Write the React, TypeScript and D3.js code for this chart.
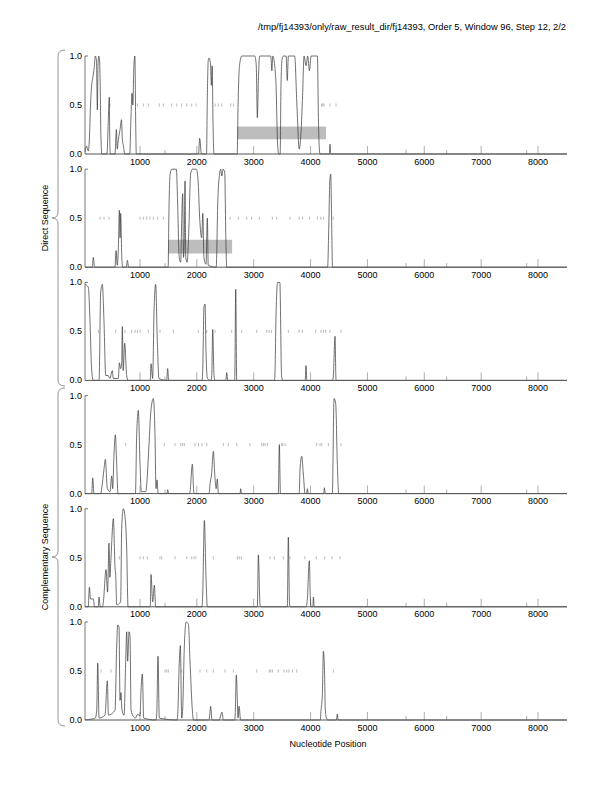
import * as d3 from "d3";

// ---- data ----
const TITLE =
  "/tmp/fj14393/only/raw_result_dir/fj14393, Order 5, Window 96, Step 12, 2/2";
const X_LABEL = "Nucleotide Position";
const STRAND_LABELS = ["Direct Sequence", "Complementary Sequence"];
const X_TICKS = [1000, 2000, 3000, 4000, 5000, 6000, 7000, 8000];
const Y_TICKS = [0, 0.5, 1];
const MINOR_TICKS = [1440, 5679, 6394, 7801];
const SEQ_LENGTH = 8510;

type Pt = [number, number];

const frame1: Pt[] = [
  [33, 0.02], [60, 0.08], [90, 0.03], [110, 0.15], [130, 0.5], [150, 0.7],
  [170, 0.78], [195, 0.88], [215, 1.0], [235, 0.95], [250, 0.45], [262, 0.9],
  [275, 1.0], [290, 0.95], [300, 0.7], [312, 0.2], [330, 0], [420, 0], [440, 0.3],
  [460, 0.58], [470, 0.1], [480, 0], [560, 0], [585, 0.25], [600, 0.05],
  [620, 0.15], [650, 0.25], [675, 0.35], [690, 0.15], [710, 0.08], [730, 0],
  [820, 0], [840, 0.35], [860, 0.62], [875, 0.5], [890, 0.85], [910, 1.0],
  [925, 0.3], [935, 0], [2030, 0], [2050, 0.16], [2080, 0], [2170, 0],
  [2185, 0.6], [2200, 0.95], [2215, 0.98], [2240, 0.92], [2255, 0.7],
  [2270, 0.9], [2285, 0.3], [2300, 0], [2710, 0], [2725, 0.5], [2750, 0.9],
  [2790, 1.0], [3020, 1.0], [3045, 0.9], [3064, 0.37], [3085, 0.8], [3105, 1.0],
  [3300, 1.0], [3320, 0.85], [3335, 1.0], [3390, 0.75], [3420, 0.1], [3440, 0],
  [3465, 0], [3480, 0.7], [3500, 0.97], [3520, 1.0], [3570, 1.0], [3590, 0.75],
  [3610, 1.0], [3720, 1.0], [3760, 0.5], [3800, 0.05], [3830, 0.2], [3860, 0.6],
  [3885, 1.0], [3920, 0.9], [3950, 1.0], [3980, 0.85], [4010, 1.0], [4120, 1.0],
  [4140, 0.3], [4165, 0], [4330, 0], [4342, 0.1], [4355, 0], [8510, 0],
];
const frame2: Pt[] = [
  [33, 0], [160, 0], [180, 0.1], [200, 0], [560, 0], [579, 0.17], [600, 0.02],
  [620, 0.2], [637, 0.58], [650, 0.3], [661, 0.55], [680, 0.1], [696, 0],
  [760, 0], [778, 0.07], [800, 0], [1495, 0], [1510, 0.6], [1530, 0.95],
  [1560, 1.0], [1640, 1.0], [1660, 0.7], [1690, 0.1], [1716, 0.05], [1735, 0.5],
  [1751, 0.75], [1765, 0.1], [1780, 0.3], [1792, 0.88], [1805, 0.1], [1830, 0.05],
  [1860, 0.4], [1890, 0.95], [1920, 1.0], [1990, 1.0], [2020, 0.9], [2050, 0.5],
  [2085, 0.3], [2105, 0.55], [2125, 0.1], [2161, 0.03], [2185, 0.5], [2200, 0.02],
  [2340, 0], [2370, 0.7], [2400, 0.95], [2420, 1.0], [2440, 0.93], [2460, 1.0],
  [2490, 0.97], [2510, 0.3], [2525, 0], [4300, 0], [4320, 0.4], [4340, 0.9],
  [4355, 0.95], [4370, 0.5], [4385, 0], [8510, 0],
];
const frame3: Pt[] = [
  [33, 0.98], [92, 0.95], [121, 0.6], [151, 0.1], [180, 0], [280, 0], [309, 0.9],
  [338, 0.98], [367, 0.6], [397, 0.05], [440, 0.05], [470, 0.02], [514, 0.1],
  [530, 0.02], [620, 0.02], [637, 0.18], [660, 0.12], [678, 0.18], [690, 0.55],
  [705, 0.1], [731, 0.38], [766, 0.05], [790, 0], [1180, 0], [1194, 0.17],
  [1223, 0.02], [1247, 0.7], [1276, 0.98], [1305, 0.4], [1334, 0.02], [1470, 0],
  [1487, 0.12], [1505, 0], [2090, 0], [2103, 0.1], [2126, 0.75], [2144, 0.78],
  [2161, 0.3], [2185, 0.02], [2250, 0], [2262, 0.05], [2279, 0.52], [2302, 0.05],
  [2320, 0], [2510, 0], [2525, 0.08], [2545, 0], [2666, 0], [2684, 0.93],
  [2701, 0], [3360, 0], [3370, 0.02], [3395, 0.72], [3420, 1.0], [3460, 1.0],
  [3490, 0.05], [3510, 0], [3905, 0], [3920, 0.15], [3935, 0], [4390, 0],
  [4401, 0.05], [4430, 0.45], [4448, 0], [8510, 0],
];
const frame4: Pt[] = [
  [33, 0], [150, 0], [169, 0.16], [190, 0], [310, 0], [326, 0.05], [367, 0.25],
  [391, 0.35], [426, 0.05], [473, 0.02], [502, 0.18], [520, 0.05], [543, 0.4],
  [567, 0.6], [590, 0.3], [614, 0], [920, 0], [942, 0.6], [971, 0.85],
  [1001, 0.3], [1024, 0.02], [1100, 0.02], [1159, 0.5], [1188, 0.82],
  [1235, 0.97], [1264, 0.6], [1282, 0.05], [1300, 0.14], [1320, 0], [1475, 0],
  [1487, 0.04], [1505, 0], [1870, 0], [1880, 0.02], [1921, 0.3], [1945, 0.02],
  [1960, 0], [2215, 0], [2232, 0.1], [2260, 0.2], [2290, 0.43], [2320, 0.15],
  [2340, 0.05], [2360, 0.15], [2380, 0], [2760, 0], [2771, 0.05], [2785, 0],
  [3433, 0], [3451, 0.5], [3470, 0], [3800, 0], [3815, 0.25], [3844, 0.38],
  [3873, 0.2], [3903, 0], [3930, 0], [3944, 0.05], [3960, 0], [4230, 0],
  [4243, 0.06], [4260, 0], [4383, 0], [4413, 0.97], [4442, 0.92], [4471, 0.3],
  [4495, 0], [8510, 0],
];
const frame5: Pt[] = [
  [33, 0], [90, 0], [110, 0.2], [130, 0.08], [180, 0.08], [200, 0], [265, 0],
  [280, 0.1], [300, 0], [340, 0], [356, 0.05], [403, 0.38], [430, 0.15],
  [455, 0.65], [470, 0.3], [490, 0.5], [532, 0.9], [561, 0.4], [575, 0.3],
  [590, 0.02], [660, 0.05], [678, 0.8], [707, 1.0], [737, 0.92], [766, 0.6],
  [790, 0], [1180, 0], [1194, 0.33], [1223, 0.05], [1253, 0.22], [1275, 0],
  [2090, 0], [2103, 0.12], [2132, 0.88], [2161, 0.3], [2185, 0], [3064, 0],
  [3082, 0.53], [3111, 0.02], [3125, 0], [3591, 0], [3609, 0.71], [3630, 0.02],
  [3645, 0], [3920, 0], [3940, 0.05], [3979, 0.47], [3995, 0.1], [4010, 0],
  [4040, 0], [4050, 0.1], [4065, 0], [8510, 0],
];
const frame6: Pt[] = [
  [33, 0], [151, 0.01], [215, 0.02], [239, 0.1], [257, 0.58], [280, 0.02],
  [385, 0.05], [426, 0.4], [445, 0.05], [561, 0.1], [590, 0.75], [608, 0.97],
  [631, 0.95], [649, 0.2], [666, 0.28], [684, 0.1], [720, 0.05], [749, 0.6],
  [766, 0.9], [784, 0.6], [807, 0.9], [825, 0.85], [843, 0.1], [880, 0.04],
  [920, 0.02], [960, 0.06], [1000, 0.04], [1018, 0.3], [1042, 0.47], [1065, 0.02],
  [1280, 0], [1294, 0.05], [1317, 0.65], [1340, 0.02], [1650, 0], [1663, 0.05],
  [1692, 0.6], [1710, 0.76], [1734, 0.02], [1750, 0.1], [1780, 0.75],
  [1810, 1.0], [1851, 0.98], [1880, 0.6], [1921, 0.1], [1940, 0], [2210, 0],
  [2220, 0.02], [2244, 0.14], [2265, 0], [2400, 0], [2408, 0.02], [2443, 0.08],
  [2465, 0], [2665, 0], [2672, 0.02], [2695, 0.46], [2725, 0.02], [2742, 0.14],
  [2770, 0], [4170, 0], [4184, 0.1], [4207, 0.25], [4225, 0.7], [4243, 0.55],
  [4260, 0.1], [4280, 0.02], [4300, 0], [4455, 0], [4471, 0.06], [4485, 0],
  [8510, 0],
];

const stops1 = [
  473, 954, 1059, 1147, 1340, 1411, 1558, 1646, 1734, 1822, 1910, 1985, 2320,
  2378, 2437, 2596, 2642, 4196, 4216, 4236, 4342, 4448,
];
const stops2 = [
  297, 367, 455, 1001, 1059, 1118, 1176, 1235, 1311, 1411, 2584, 2730, 2877,
  2964, 3099, 3328, 3404, 3640, 3800, 3860, 3980, 4120, 4180, 4230, 4400,
];
const stops3 = [
  268, 573, 737, 854, 913, 954, 1001, 1147, 1352, 1587, 2026, 2174, 2320, 2613,
  2789, 3053, 3229, 3270, 3310, 3609, 3797, 3856, 4090, 4184, 4225, 4266, 4342,
  4536,
];
const stops4 = [
  749, 1428, 1616, 1716, 1750, 1780, 1968, 2030, 2090, 2174, 2466, 2554, 2701,
  2935, 3141, 3170, 3200, 3240, 3492, 3510, 3551, 4108, 4166, 4196, 4313, 4536,
];
const stops5 = [
  637, 1001, 1059, 1129, 1352, 1382, 1616, 1822, 1910, 1950, 1985, 2290, 2712,
  2745, 2783, 3287, 3363, 3521, 3639, 3900, 4100, 4250, 4380, 4520,
];
const stops6 = [
  315, 491, 1440, 1470, 1499, 1734, 2056, 2174, 2290, 2496, 2642, 3053, 3275,
  3300, 3328, 3433, 3533, 3580, 3620, 3680, 3756, 4401,
];

// [start, end, low, high]
const boxes1: [number, number, number, number][] = [[2707, 4272, 0.15, 0.28]];
const boxes2: [number, number, number, number][] = [[1495, 2620, 0.14, 0.28]];

const panels = [
  { line: frame1, stops: stops1, boxes: boxes1 },
  { line: frame2, stops: stops2, boxes: boxes2 },
  { line: frame3, stops: stops3, boxes: [] },
  { line: frame4, stops: stops4, boxes: [] },
  { line: frame5, stops: stops5, boxes: [] },
  { line: frame6, stops: stops6, boxes: [] },
];

const FONT = "'Liberation Sans', Arial, Helvetica, sans-serif";

export default function App() {
  const width = 612;
  const height = 792;
  const left = 85;
  const right = 567;
  const panelTop = 56;
  const panelStep = 113.2;
  const panelH = 98;

  const x = d3.scaleLinear().domain([33, SEQ_LENGTH]).range([left, right]);

  const brace = (y0: number, y1: number) => {
    const bx = 58;
    const tip = 65;
    const notch = 52;
    const r = 6;
    const ym = (y0 + y1) / 2;
    return `M${tip},${y0} Q${bx},${y0} ${bx},${y0 + r} L${bx},${ym - r} Q${bx},${ym} ${notch},${ym} Q${bx},${ym} ${bx},${ym + r} L${bx},${y1 - r} Q${bx},${y1} ${tip},${y1}`;
  };

  return (
    <svg
      width={width}
      height={height}
      style={{ position: "absolute", left: 0, top: 0, background: "#fff" }}
      fontFamily={FONT}
    >
      <text x={566} y={30} fontSize={9.3} textAnchor="end" fill="#000">
        {TITLE}
      </text>

      {panels.map((p, i) => {
        const top = panelTop + i * panelStep;
        const y = d3.scaleLinear().domain([0, 1]).range([top + panelH, top]);
        const line = d3
          .line<Pt>()
          .x((d) => x(d[0]))
          .y((d) => y(d[1]))
          .curve(d3.curveMonotoneX);
        return (
          <g key={i}>
            {p.boxes.map((b, j) => (
              <rect
                key={j}
                x={x(b[0])}
                y={y(b[3])}
                width={x(b[1]) - x(b[0])}
                height={y(b[2]) - y(b[3])}
                fill="#bdbdbd"
              />
            ))}
            {p.stops.map((s, j) => (
              <line
                key={j}
                x1={x(s)}
                x2={x(s)}
                y1={y(0.5) - 1.5}
                y2={y(0.5) + 1.5}
                stroke="#999"
                strokeWidth={0.7}
              />
            ))}
            {X_TICKS.map((t) => (
              <line
                key={t}
                x1={x(t)}
                x2={x(t)}
                y1={y(0)}
                y2={y(0) - 8}
                stroke="#999"
                strokeWidth={0.8}
              />
            ))}
            {MINOR_TICKS.map((t) => (
              <line
                key={t}
                x1={x(t)}
                x2={x(t)}
                y1={y(0)}
                y2={y(0) - 4}
                stroke="#999"
                strokeWidth={0.8}
              />
            ))}
            <path
              d={line(p.line) || ""}
              fill="none"
              stroke="#333"
              strokeWidth={0.7}
            />
            <line x1={left} x2={right} y1={y(0)} y2={y(0)} stroke="#555" strokeWidth={1} />
            <line x1={left} x2={left} y1={y(0)} y2={y(1)} stroke="#555" strokeWidth={0.8} />
            <line x1={left} x2={left + 3} y1={y(1)} y2={y(1)} stroke="#555" strokeWidth={0.8} />
            {Y_TICKS.map((t) => (
              <text
                key={t}
                x={left - 3}
                y={y(t) + 3}
                fontSize={9}
                textAnchor="end"
              >
                {t.toFixed(1)}
              </text>
            ))}
            {X_TICKS.map((t) => (
              <text key={t} x={x(t)} y={y(0) + 10.5} fontSize={9} textAnchor="middle">
                {t}
              </text>
            ))}
          </g>
        );
      })}

      <path d={brace(50, 386)} fill="none" stroke="#888" strokeWidth={0.9} />
      <path d={brace(388, 726)} fill="none" stroke="#888" strokeWidth={0.9} />
      {STRAND_LABELS.map((s, i) => {
        const cy = i === 0 ? 218 : 557;
        return (
          <text
            key={s}
            transform={`translate(48,${cy}) rotate(-90)`}
            fontSize={9}
            textAnchor="middle"
          >
            {s}
          </text>
        );
      })}

      <text x={328} y={747} fontSize={9} textAnchor="middle">
        {X_LABEL}
      </text>
    </svg>
  );
}
